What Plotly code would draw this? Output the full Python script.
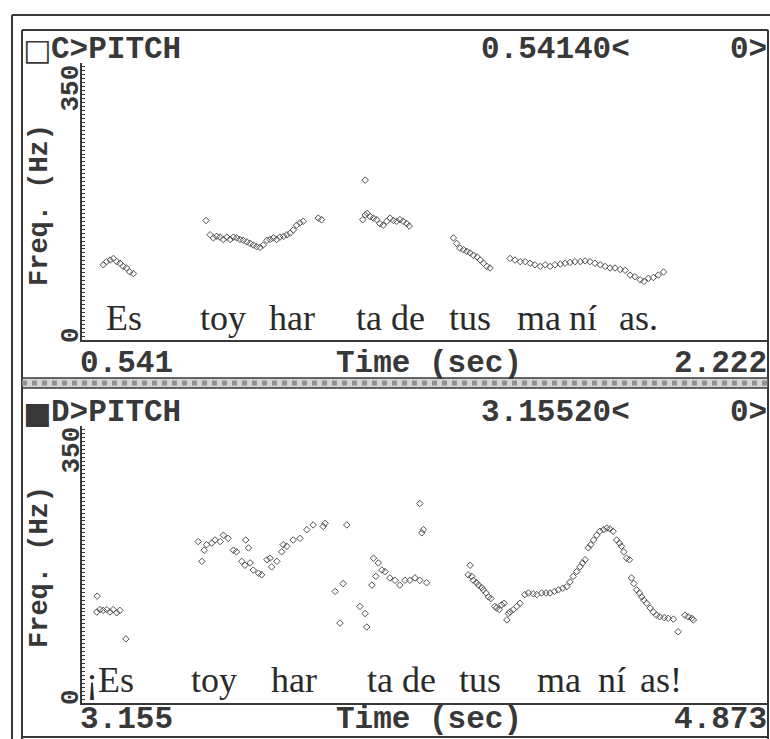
import plotly.graph_objects as go

W, H = 770, 739

# ---------------- data ----------------
top_t = [0.593, 0.601, 0.610, 0.618, 0.626, 0.634, 0.642, 0.650, 0.658, 0.667,
         0.845,
         0.855, 0.863, 0.871, 0.879, 0.887, 0.896, 0.904, 0.912, 0.920, 0.928,
         0.936, 0.945, 0.953, 0.961, 0.969, 0.977, 0.985, 0.994, 1.002, 1.010,
         1.018, 1.026, 1.035, 1.043, 1.051, 1.059, 1.067, 1.075, 1.083,
         1.120, 1.128,
         1.235,
         1.229, 1.235, 1.240, 1.247, 1.255, 1.263, 1.271, 1.279, 1.288, 1.296,
         1.304, 1.312, 1.320, 1.328, 1.337, 1.343,
         1.451, 1.459, 1.467, 1.476, 1.484, 1.492, 1.500, 1.509, 1.517, 1.525, 1.533, 1.541,
         1.590, 1.602, 1.615, 1.627, 1.639, 1.651, 1.664, 1.676, 1.688, 1.700,
         1.713, 1.725, 1.737, 1.749, 1.762, 1.774, 1.786, 1.798, 1.811, 1.823,
         1.835, 1.847, 1.860, 1.872, 1.884, 1.896, 1.909, 1.918, 1.929, 1.941,
         1.953, 1.966]
top_f = [95, 99, 101, 103, 99, 97, 93, 91, 86, 84,
         151,
         133, 129, 131, 130, 127, 130, 127, 130, 129, 127,
         126, 124, 122, 120, 118, 117, 120, 126, 127, 129,
         127, 130, 131, 133, 135, 139, 145, 148, 150,
         154, 152,
         202,
         152, 158, 160, 156, 154, 152, 147, 145, 150, 154,
         151, 150, 152, 150, 147, 144,
         129, 122, 116, 114, 112, 110, 107, 105, 101, 97, 93, 91,
         103, 101, 99, 99, 97, 95, 93, 95, 93, 95,
         96, 97, 98, 99, 99, 100, 99, 97, 95, 93,
         91, 91, 89, 88, 82, 80, 76, 74, 78, 79,
         82, 86]

bot_t = [3.193, 3.192, 3.200, 3.208, 3.217, 3.225, 3.233, 3.242, 3.250, 3.265,
         3.446, 3.455, 3.461, 3.467, 3.480, 3.488, 3.501, 3.509, 3.521, 3.534,
         3.542, 3.555, 3.563, 3.565, 3.572, 3.576, 3.584, 3.597, 3.605, 3.618,
         3.626, 3.630, 3.643, 3.655, 3.659, 3.668, 3.684, 3.701, 3.718, 3.734,
         3.759, 3.764,
         3.789, 3.801, 3.809, 3.818, 3.851, 3.864, 3.868, 3.881, 3.885, 3.891,
         3.897, 3.906, 3.914, 3.926, 3.939, 3.951, 3.964, 3.976, 3.989, 4.001,
         4.001, 4.006, 4.010, 4.018,
         4.122, 4.127, 4.131, 4.135, 4.143, 4.148, 4.156, 4.160, 4.167, 4.173,
         4.179, 4.189, 4.193, 4.200, 4.206, 4.212, 4.219, 4.223, 4.227, 4.235,
         4.244, 4.252, 4.264, 4.273, 4.285, 4.294, 4.306, 4.317, 4.327, 4.338,
         4.348, 4.359, 4.369, 4.377, 4.385, 4.394, 4.402, 4.409, 4.415, 4.423,
         4.429, 4.436, 4.444, 4.452, 4.461, 4.469, 4.477, 4.485, 4.494, 4.501,
         4.506, 4.512, 4.519, 4.526, 4.531, 4.537, 4.544, 4.551, 4.557, 4.562,
         4.569, 4.578, 4.586, 4.594, 4.602, 4.613, 4.623, 4.636, 4.648, 4.665,
         4.673, 4.682, 4.686]
bot_f = [135, 115, 118, 117, 118, 115, 118, 114, 117, 81,
         204, 179, 193, 200, 202, 206, 204, 212, 208, 193,
         191, 179, 174, 206, 196, 177, 168, 164, 162, 181,
         183, 172, 179, 191, 200, 198, 206, 208, 219, 225,
         223, 227,
         141, 101, 151, 225, 122, 113, 96, 149, 183, 160,
         177, 168, 166, 158, 155, 149, 155, 155, 158, 155,
         252, 215, 219, 152,
         162, 174, 160, 155, 152, 149, 146, 143, 139, 134,
         132, 122, 120, 118, 124, 126, 105, 113, 115, 118,
         122, 126, 137, 139, 138, 137, 139, 139, 139, 141,
         143, 145, 147, 153, 160, 166, 172, 177, 181, 196,
         200, 206, 212, 217, 219, 221, 220, 217, 206, 202,
         198, 191, 183, 181, 158, 151, 143, 139, 134, 130,
         126, 120, 115, 111, 109, 108, 107, 106, 90, 111,
         109, 107, 105]

top_syll = ["Es", "toy", "har", "ta de", "tus", "ma", "ní", "as."]
top_syll_t = [0.644, 0.887, 1.056, 1.298, 1.492, 1.661, 1.769, 1.904]
bot_syll = ["¡Es", "toy", "har", "ta de", "tus", "ma", "ní", "as!"]
bot_syll_t = [3.225, 3.486, 3.686, 3.956, 4.152, 4.350, 4.482, 4.605]

top_range = [0.541, 2.222]
bot_range = [3.155, 4.873]
f_range = [0, 350]
top_box, top_title, top_cursor, top_chan = "□", "C>PITCH", "0.54140<", "0>"
bot_box, bot_title, bot_cursor, bot_chan = "■", "D>PITCH", "3.15520<", "0>"

# ---------------- helpers ----------------
def px(x):
    return x / W

def py(y):
    return 1 - y / H

INK = "#383838"
MONO = "Liberation Mono, DejaVu Sans Mono, monospace"
SERIF = "Liberation Serif, DejaVu Serif, serif"

fig = go.Figure()
marker = dict(symbol="diamond-open", size=5, color="#505050", line=dict(width=1, color="#505050"))
fig.add_trace(go.Scatter(x=top_t, y=top_f, mode="markers", marker=marker,
                         xaxis="x", yaxis="y", showlegend=False))
fig.add_trace(go.Scatter(x=bot_t, y=bot_f, mode="markers", marker=marker,
                         xaxis="x2", yaxis="y2", showlegend=False))

xa = dict(showgrid=False, zeroline=False, showticklabels=False, ticks="",
          showline=True, linewidth=2, linecolor=INK, fixedrange=True)
ya = dict(showgrid=False, zeroline=False, showticklabels=False, ticks="inside",
          tickmode="linear", tick0=0, dtick=5, ticklen=3, tickwidth=1, tickcolor=INK,
          showline=True, linewidth=2, linecolor=INK, range=f_range, fixedrange=True)

top_dom = [py(340), py(63)]
bot_dom = [py(703), py(426)]
xdom = [px(82), px(768)]

fig.update_layout(
    width=W, height=H, margin=dict(l=0, r=0, t=0, b=0),
    paper_bgcolor="white", plot_bgcolor="white",
    xaxis=dict(xa, domain=xdom, range=top_range, anchor="y"),
    yaxis=dict(ya, domain=top_dom, anchor="x"),
    xaxis2=dict(xa, domain=xdom, range=bot_range, anchor="y2"),
    yaxis2=dict(ya, domain=bot_dom, anchor="x2"),
)

shapes = []
def line(x0, y0, x1, y1, w=2, c=INK, dash=None):
    d = dict(type="line", xref="paper", yref="paper", x0=px(x0), y0=py(y0), x1=px(x1), y1=py(y1),
             line=dict(width=w, color=c))
    if dash:
        d["line"]["dash"] = dash
    shapes.append(d)

# outer frame
line(12, 15, 772, 15)
line(12, 15, 12, 745)
# inner frame
line(22, 30, 768, 30)
line(22, 30, 22, 745)
line(768, 30, 768, 745)
line(22, 737, 768, 737)
# separator hatch band
shapes.append(dict(type="rect", xref="paper", yref="paper", x0=px(22), x1=px(768),
                   y0=py(388), y1=py(378), fillcolor="#d4d4d4", line=dict(width=1.5, color=INK)))
line(22, 383, 768, 383, w=5, c="#909090", dash="dot")
fig.update_layout(shapes=shapes)

ann = []
def txt(x, y, s, size=31, xanchor="left", yanchor="middle", font=MONO, bold=True, angle=0,
        xref="paper", color=INK):
    ann.append(dict(x=x if xref != "paper" else px(x), y=py(y), xref=xref, yref="paper",
                    text=f"<b>{s}</b>" if bold else s, showarrow=False,
                    xanchor=xanchor, yanchor=yanchor, textangle=angle,
                    font=dict(family=font, size=size, color=color)))

panels = [(0, top_box, top_title, top_cursor, top_chan, top_range, top_syll, top_syll_t, "x"),
          (362, bot_box, bot_title, bot_cursor, bot_chan, bot_range, bot_syll, bot_syll_t, "x2")]
for i, (off, box, title, cursor, chan, rng, syl, sylt, xr) in enumerate(panels):
    txt(37, 50 + off, box, size=30, xanchor="center", font="DejaVu Sans", bold=False)
    txt(49, 50 + off, title)
    txt(632, 50 + off, cursor, xanchor="right")
    txt(769, 50 + off, chan, xanchor="right")
    if i == 0:
        rowy, ya_ = 363, "middle"
    else:
        rowy, ya_ = 739, "bottom"
    txt(78, rowy, f"{rng[0]:.3f}", yanchor=ya_)
    txt(334, rowy, "Time (sec)", yanchor=ya_)
    txt(769, rowy, f"{rng[1]:.3f}", xanchor="right", yanchor=ya_)
    txt(71, 63 + off, "350", size=26, xanchor="center", yanchor="top", angle=-90)
    txt(71, 335 + off, "0", size=26, xanchor="center", angle=-90)
    txt(40, 205 + off, "Freq. (Hz)", size=27, xanchor="center", angle=-90)
    for s, t in zip(syl, sylt):
        txt(t, 318 + off, s, size=36, xanchor="center", font=SERIF, bold=False, xref=xr,
            color="#2a2a2a")

fig.update_layout(annotations=ann)
fig.write_html("out.html")
